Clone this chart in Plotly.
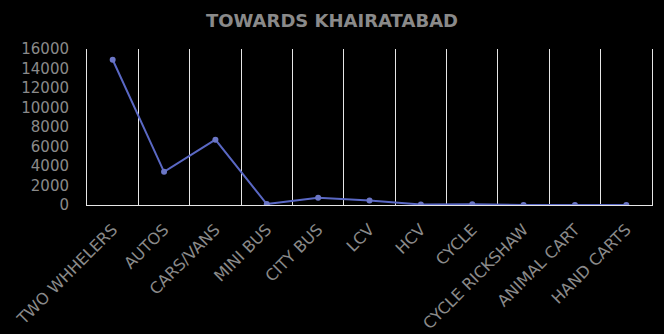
import plotly.graph_objects as go

categories = ["TWO WHHELERS", "AUTOS", "CARS/VANS", "MINI BUS", "CITY BUS", "LCV",
              "HCV", "CYCLE", "CYCLE RICKSHAW", "ANIMAL CART", "HAND CARTS"]
values = [14900, 3400, 6700, 100, 750, 450, 50, 80, 10, 10, 10]
y_ticks = [0, 2000, 4000, 6000, 8000, 10000, 12000, 14000, 16000]

fig = go.Figure(go.Scatter(
    x=categories, y=values, mode="lines+markers",
    line=dict(color="#5a68c4", width=2),
    marker=dict(color="#6b76c6", size=6),
))

font_fam = "DejaVu Sans, sans-serif"
fig.update_layout(
    width=664, height=334,
    paper_bgcolor="black", plot_bgcolor="black",
    margin=dict(l=87, r=12, t=49, b=129),
    showlegend=False,
    title=dict(text="<b>TOWARDS KHAIRATABAD</b>", x=0.5, xanchor="center", y=0.937, yanchor="middle",
               font=dict(family=font_fam, size=18, color="#8a8a8a")),
    font=dict(family=font_fam, color="#8a8a8a"),
)
fig.update_xaxes(
    type="category", range=[-0.5, 10.5], tickson="boundaries",
    showgrid=True, gridcolor="#e6e6e6", gridwidth=1,
    showline=True, linecolor="#e6e6e6", linewidth=1,
    ticks="", tickangle=-45, tickfont=dict(size=16, color="#8a8a8a"),
    ticklabelstandoff=8, zeroline=False, automargin=False,
)
fig.update_yaxes(
    range=[0, 16000], tickvals=y_ticks, ticktext=[str(v) for v in y_ticks],
    showgrid=False, zeroline=False, showline=True, mirror=True,
    linecolor="#e6e6e6", linewidth=1,
    tickfont=dict(size=15, color="#8a8a8a"), ticks="", ticklabelstandoff=14,
    automargin=False,
)
fig.write_html("out.html")
